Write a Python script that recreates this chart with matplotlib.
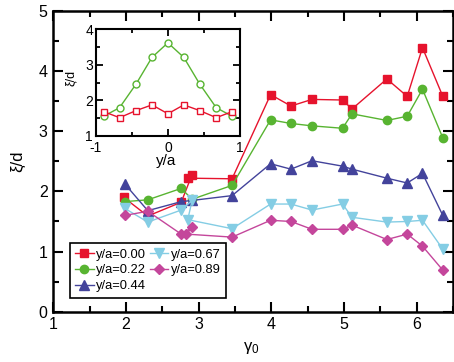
import matplotlib
matplotlib.use("Agg")
import matplotlib.pyplot as plt
from matplotlib.ticker import MultipleLocator

plt.rcParams['font.family'] = ['Liberation Sans', 'DejaVu Sans']
plt.rcParams['mathtext.fontset'] = 'custom'
plt.rcParams['mathtext.rm'] = 'Liberation Sans'
plt.rcParams['mathtext.it'] = 'Liberation Sans'
plt.rcParams['axes.unicode_minus'] = False

# ---- data: main panel ----
labels = ['y/a=0.00', 'y/a=0.22', 'y/a=0.44', 'y/a=0.67', 'y/a=0.89']
x_000 = [1.97, 2.30, 2.76, 2.91, 2.86, 3.46, 3.99, 4.27, 4.56, 4.98, 5.11, 5.59, 5.87, 6.08, 6.36]
y_000 = [1.90, 1.59, 1.82, 2.28, 2.22, 2.21, 3.61, 3.42, 3.53, 3.52, 3.37, 3.87, 3.58, 4.39, 3.58]
x_022 = [1.98, 2.30, 2.76, 2.91, 3.46, 3.99, 4.27, 4.56, 4.98, 5.11, 5.59, 5.87, 6.08, 6.36]
y_022 = [1.83, 1.86, 2.05, 1.87, 2.10, 3.19, 3.13, 3.09, 3.05, 3.29, 3.18, 3.25, 3.70, 2.89]
x_044 = [1.98, 2.30, 2.76, 2.91, 3.46, 3.99, 4.27, 4.56, 4.98, 5.11, 5.59, 5.87, 6.08, 6.36]
y_044 = [2.13, 1.68, 1.83, 1.85, 1.93, 2.46, 2.37, 2.51, 2.42, 2.37, 2.22, 2.14, 2.30, 1.60]
x_067 = [1.98, 2.30, 2.76, 2.91, 2.85, 3.46, 3.99, 4.27, 4.56, 4.98, 5.11, 5.59, 5.87, 6.08, 6.36]
y_067 = [1.72, 1.49, 1.69, 1.85, 1.53, 1.38, 1.79, 1.79, 1.69, 1.79, 1.57, 1.49, 1.50, 1.52, 1.04]
x_089 = [1.98, 2.30, 2.76, 2.91, 2.83, 3.46, 3.99, 4.27, 4.56, 4.98, 5.11, 5.59, 5.87, 6.08, 6.36]
y_089 = [1.60, 1.67, 1.29, 1.40, 1.29, 1.24, 1.52, 1.50, 1.37, 1.37, 1.44, 1.20, 1.29, 1.09, 0.69]

# ---- data: inset ----
inset_x = [-0.89, -0.67, -0.44, -0.22, 0.0, 0.22, 0.44, 0.67, 0.89]
inset_green = [1.55, 1.79, 2.46, 3.21, 3.62, 3.21, 2.46, 1.79, 1.55]
inset_red = [1.68, 1.51, 1.71, 1.87, 1.62, 1.87, 1.71, 1.51, 1.68]

c_red = '#e6132d'
c_green = '#58b431'
c_blue = '#43439b'
c_cyan = '#84cde4'
c_mag = '#c4469b'

fig = plt.figure(figsize=(4.54, 3.62), dpi=100)
ax = fig.add_axes([0.1174, 0.139, 0.8804, 0.8306])

series = [
    (x_000, y_000, c_red, 's', 5.5),
    (x_022, y_022, c_green, 'o', 6.0),
    (x_044, y_044, c_blue, '^', 6.5),
    (x_067, y_067, c_cyan, 'v', 6.5),
    (x_089, y_089, c_mag, 'D', 5.0),
]
for (xs, ys, c, m, ms), lab in zip(series, labels):
    ax.plot(xs, ys, color=c, marker=m, markersize=ms, linewidth=1.0,
            markeredgecolor=c, label=lab)

ax.set_xlim(1, 6.5)
ax.set_ylim(0, 5)
ax.xaxis.set_major_locator(MultipleLocator(1))
ax.xaxis.set_minor_locator(MultipleLocator(0.5))
ax.yaxis.set_major_locator(MultipleLocator(1))
ax.yaxis.set_minor_locator(MultipleLocator(0.5))
ax.tick_params(which='both', direction='in', top=True, right=True, width=1.5,
               labelsize=11.5, pad=4)
ax.tick_params(which='major', length=7.5)
ax.tick_params(which='minor', length=4)
for s in ax.spines.values():
    s.set_linewidth(1.8)

ax.set_xlabel(r'$\gamma_0$', fontsize=12)
ax.xaxis.set_label_coords(0.496, -0.094)
ax.set_ylabel('ξ/d', fontsize=12)
ax.yaxis.set_label_coords(-0.071, 0.5)

leg = ax.legend(ncol=2, loc='lower left', bbox_to_anchor=(0.0425, 0.047),
                fontsize=9.3, frameon=True, fancybox=False, edgecolor='black',
                handlelength=1.4, handletextpad=0.2, columnspacing=0.3,
                labelspacing=0.3, borderpad=0.4, borderaxespad=0.0)
leg.get_frame().set_linewidth(1.2)
leg.get_frame().set_alpha(1)

# ---- inset ----
axi = fig.add_axes([0.2108, 0.625, 0.318, 0.294])
axi.plot(inset_x, inset_green, color=c_green, marker='o', markersize=5,
         markerfacecolor='white', markeredgecolor=c_green, linewidth=1.0)
axi.plot(inset_x, inset_red, color=c_red, marker='s', markersize=4.5,
         markerfacecolor='white', markeredgecolor=c_red, linewidth=1.0)
axi.set_xlim(-1, 1)
axi.set_ylim(1, 4)
axi.xaxis.set_major_locator(MultipleLocator(1))
axi.xaxis.set_minor_locator(MultipleLocator(0.5))
axi.yaxis.set_major_locator(MultipleLocator(1))
axi.yaxis.set_minor_locator(MultipleLocator(0.5))
axi.tick_params(which='both', direction='in', top=True, right=True, width=1.3,
                labelsize=10)
axi.tick_params(axis='x', pad=4)
axi.tick_params(axis='y', pad=2)
axi.tick_params(which='major', length=5)
axi.tick_params(which='minor', length=3)
for s in axi.spines.values():
    s.set_linewidth(1.5)
axi.set_xlabel('y/a', fontsize=11)
axi.xaxis.set_label_coords(0.487, -0.17)
axi.set_ylabel('ξ/d', fontsize=9)
axi.yaxis.set_label_coords(-0.13, 0.54)

fig.savefig('out.png', dpi=100)
